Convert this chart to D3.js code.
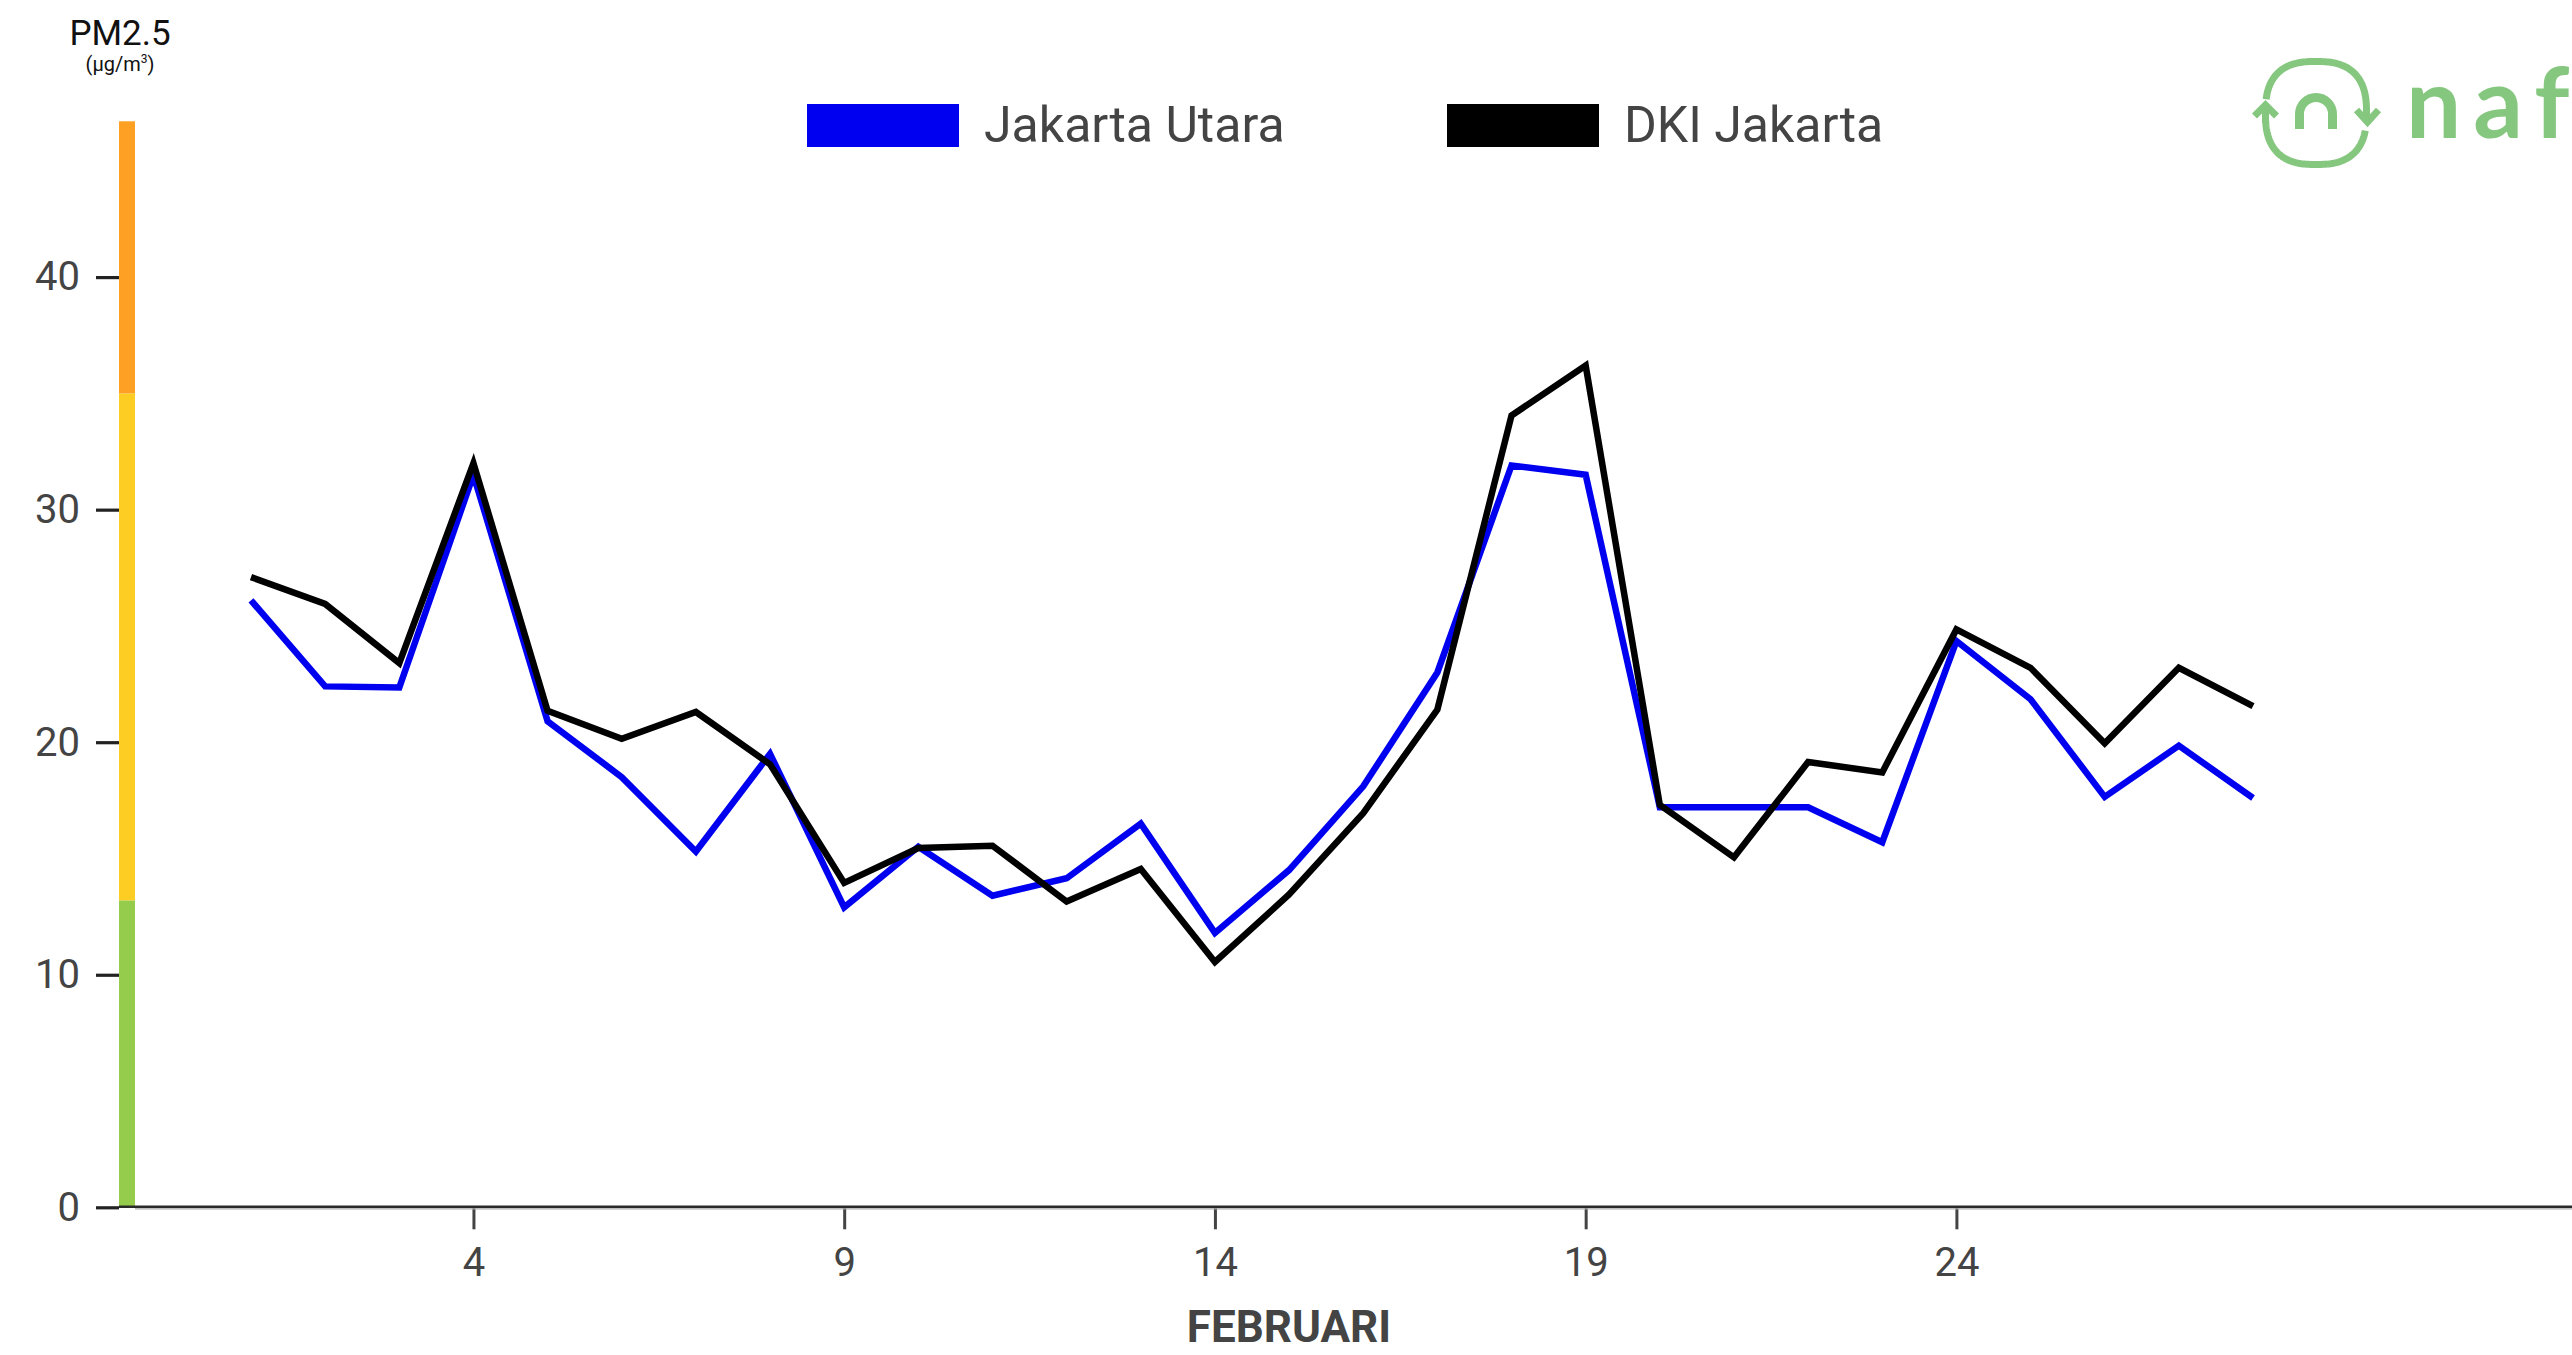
<!DOCTYPE html>
<html>
<head>
<meta charset="utf-8">
<script src="https://cdn.jsdelivr.net/npm/d3@7"></script>
<style>
  html, body { margin: 0; padding: 0; background: #fff; }
  svg { display: block; }
  text { font-family: Roboto, "Liberation Sans", Arial, sans-serif; }
</style>
</head>
<body>
<svg id="chart" width="2572" height="1355"></svg>
<script>
// Daily PM2.5 (µg/m³), February
const days = [1, 2, 3, 4, 5, 6, 7, 8, 9, 10, 11, 12, 13, 14, 15, 16, 17, 18, 19, 20, 21, 22, 23, 24, 25, 26, 27, 28];
const jakartaUtara = [26.1, 22.4, 22.35, 31.5, 20.9, 18.5, 15.3, 19.5, 12.9, 15.5, 13.4, 14.15, 16.5, 11.8, 14.5, 18.1, 23.0, 31.9, 31.5, 17.2, 17.2, 17.2, 15.7, 24.35, 21.85, 17.65, 19.85, 17.6];
const dkiJakarta = [27.1, 25.95, 23.4, 32.0, 21.35, 20.15, 21.3, 19.05, 13.95, 15.45, 15.55, 13.15, 14.55, 10.55, 13.45, 16.95, 21.4, 34.05, 36.2, 17.3, 15.05, 19.15, 18.7, 24.85, 23.2, 19.95, 23.2, 21.55];

const seriesNames = ["Jakarta Utara", "DKI Jakarta"];
const seriesColors = ["#0000f0", "#000000"];

const yTicks = [0, 10, 20, 30, 40];
const xTicks = [4, 9, 14, 19, 24];
const yMax = 46.7;

// Air-quality bands shown along the y axis
const bandStops = [0, 13.2, 35, yMax];
const bandColors = ["#95cc4b", "#fecd23", "#fda023"];

const xLabel = "FEBRUARI";
const yLabel = "PM2.5";

const W = 2572, H = 1355;
const svg = d3.select("#chart");
svg.append("rect").attr("width", W).attr("height", H).attr("fill", "#fff");

const axisX0 = 119, axisBottom = 1207.3, axisTop = 121.3;
const x = d3.scaleLinear().domain([1, 28]).range([251, 2253]);
const y = d3.scaleLinear().domain([0, yMax]).range([axisBottom, axisTop]);

// Y axis
const yAxis = svg.append("g")
  .attr("transform", `translate(${axisX0},0)`)
  .call(d3.axisLeft(y).tickValues(yTicks).tickSize(23).tickPadding(16).tickFormat(d3.format("d")));
yAxis.select(".domain").remove();
yAxis.selectAll(".tick line").attr("stroke", "#222").attr("stroke-width", 3.2);
yAxis.selectAll(".tick text")
  .attr("fill", "#444").attr("font-size", 40)
  .style("font-family", "Roboto, 'Liberation Sans', sans-serif");

// Coloured band bar
const bands = bandColors.map((c, i) => ({ from: bandStops[i], to: bandStops[i + 1], color: c }));
svg.append("g").selectAll("rect").data(bands).join("rect")
  .attr("x", axisX0).attr("width", 16)
  .attr("y", d => y(d.to))
  .attr("height", d => y(d.from) - y(d.to))
  .attr("fill", d => d.color);

// X axis
const xAxis = svg.append("g")
  .attr("transform", `translate(0,${axisBottom})`)
  .call(d3.axisBottom(x).tickValues(xTicks).tickSize(22).tickPadding(18).tickFormat(d3.format("d")));
xAxis.select(".domain").remove();
xAxis.selectAll(".tick line").attr("stroke", "#444").attr("stroke-width", 3);
xAxis.selectAll(".tick text")
  .attr("fill", "#444").attr("font-size", 40)
  .style("font-family", "Roboto, 'Liberation Sans', sans-serif");

// baseline of the plot
svg.append("line").attr("x1", axisX0).attr("x2", W).attr("y1", axisBottom - 0.6).attr("y2", axisBottom - 0.6)
  .attr("stroke", "#2a2a2a").attr("stroke-width", 2.4);
svg.append("line").attr("x1", axisX0 + 16).attr("x2", W).attr("y1", axisBottom + 1.6).attr("y2", axisBottom + 1.6)
  .attr("stroke", "#a8a8a8").attr("stroke-width", 1.4);

// Series lines
const series = [jakartaUtara, dkiJakarta];
const line = d3.line().x((d, i) => x(days[i])).y(d => y(d));
svg.append("g").selectAll("path").data(series).join("path")
  .attr("d", d => line(d))
  .attr("fill", "none")
  .attr("stroke", (d, i) => seriesColors[i])
  .attr("stroke-width", 6.5)
  .attr("stroke-linejoin", "miter")
  .attr("stroke-linecap", "butt");

// Legend
const legend = svg.append("g").selectAll("g").data(seriesNames).join("g")
  .attr("transform", (d, i) => `translate(${807 + i * 640},104)`);
legend.append("rect").attr("width", 152).attr("height", 43).attr("fill", (d, i) => seriesColors[i]);
legend.append("text").attr("x", 177).attr("y", 38)
  .attr("font-size", 50).attr("fill", "#444").text(d => d);

// Axis titles
svg.append("text").attr("x", 120).attr("y", 45).attr("text-anchor", "middle")
  .attr("font-size", 35).attr("fill", "#111").text(yLabel);
const unit = svg.append("text").attr("x", 120).attr("y", 71).attr("text-anchor", "middle")
  .attr("font-size", 20).attr("fill", "#111");
unit.append("tspan").text("(µg/m");
unit.append("tspan").attr("font-size", 12).attr("dy", -8).text("3");
unit.append("tspan").attr("dy", 8).text(")");

svg.append("text").attr("x", 1289).attr("y", 1342).attr("text-anchor", "middle")
  .attr("font-size", 44).attr("font-weight", 700).attr("fill", "#444").text(xLabel);

// Brand mark, top right
const brand = svg.append("g").attr("fill", "none").attr("stroke", "#85c77e");
const cx = 2316, cy = 113, ra = 50.5, rb = 51.5, n = 2.6;
function ringPoint(t) {
  const c = Math.cos(t), s = Math.sin(t);
  return [cx + ra * Math.sign(c) * Math.pow(Math.abs(c), 2 / n),
          cy + rb * Math.sign(s) * Math.pow(Math.abs(s), 2 / n)];
}
function arc(t0, t1) {
  const pts = d3.range(0, 101).map(k => ringPoint(t0 + (t1 - t0) * k / 100));
  return d3.line()(pts);
}
brand.append("path").attr("d", arc(Math.PI + 0.18, 2 * Math.PI + 0.1)).attr("stroke-width", 7);
brand.append("path").attr("d", arc(0.25, Math.PI - 0.08)).attr("stroke-width", 7);
brand.append("path").attr("d", d3.line()([[cx - ra, cy + 10], [cx - ra, cy - 7]])).attr("stroke-width", 7);
brand.append("path").attr("d", d3.line()([[cx - ra - 11, cy + 3], [cx - ra, cy - 8], [cx - ra + 11, cy + 3]]))
  .attr("stroke-width", 7).attr("stroke-linejoin", "miter");
brand.append("path").attr("d", d3.line()([[cx + ra + 1 - 11, cy - 3], [cx + ra + 1, cy + 9], [cx + ra + 1 + 11, cy - 3]]))
  .attr("stroke-width", 7).attr("stroke-linejoin", "miter");
brand.append("path").attr("d", "M2299.5,129 V114 A16.5,16.5 0 0 1 2332.5,114 V129").attr("stroke-width", 9);
svg.append("text").attr("x", 2406).attr("y", 138)
  .style("font-family", "Lato, 'Open Sans', sans-serif")
  .attr("font-size", 98).attr("font-weight", 700).attr("letter-spacing", 12)
  .attr("fill", "#85c77e").text("nafas");
</script>
</body>
</html>
